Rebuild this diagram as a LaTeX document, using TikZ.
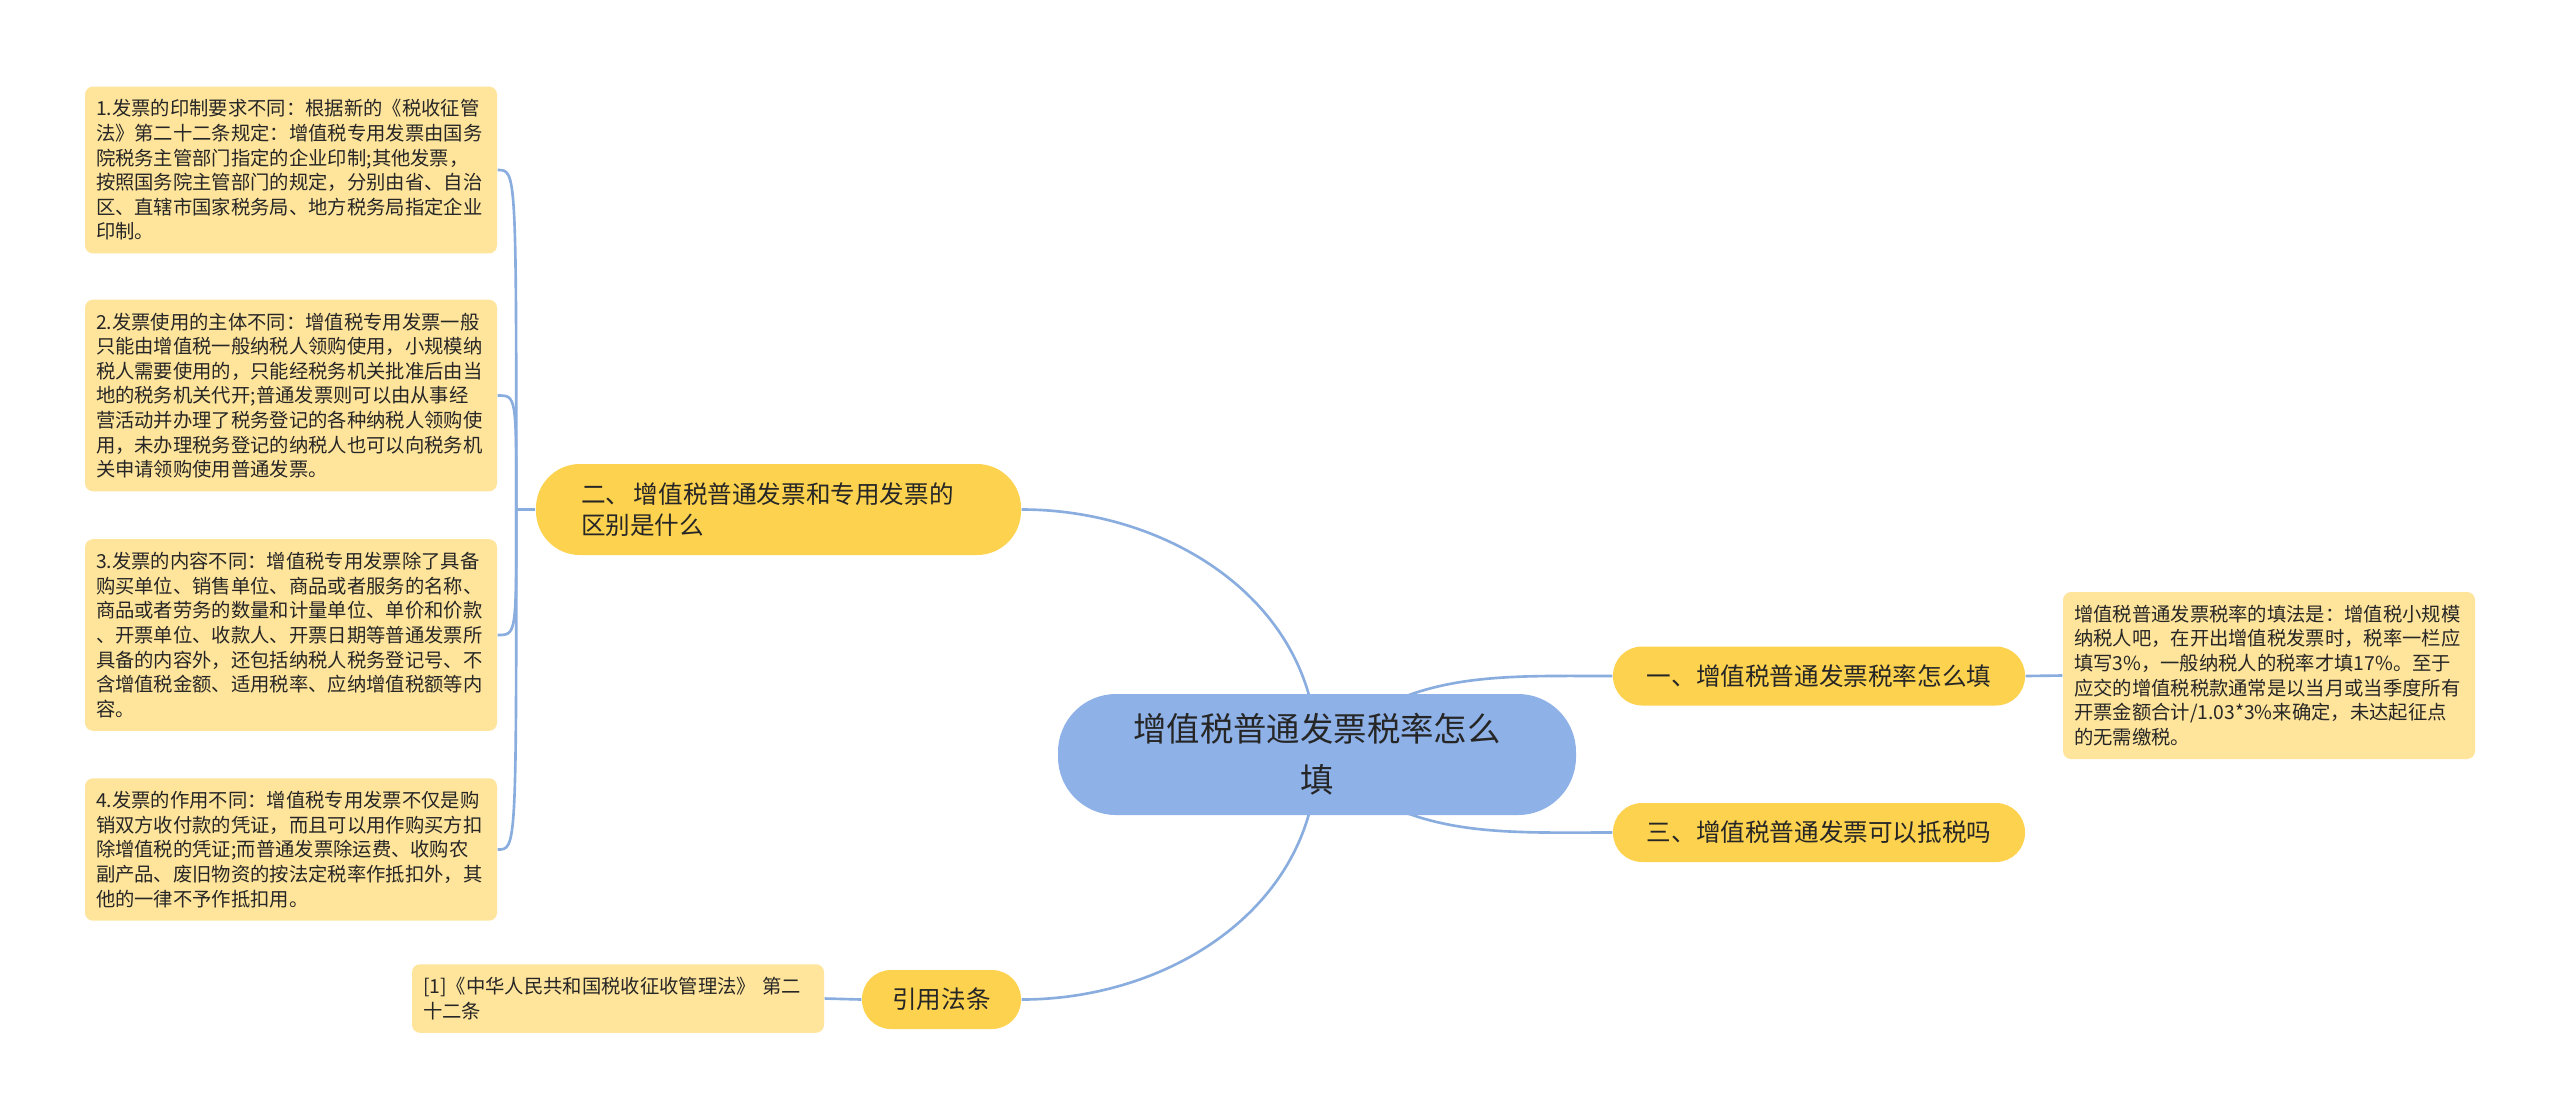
\documentclass[tikz,border=0pt]{standalone}
\usepackage{fontspec}
\setmainfont{Noto Sans CJK SC}
\usepackage{tikz}
\usetikzlibrary{calc}
\usetikzlibrary{backgrounds}

\definecolor{rootblue}{HTML}{8EB1E8}
\definecolor{branchyellow}{HTML}{FDD24F}
\definecolor{leafyellow}{HTML}{FFE59C}
\definecolor{linkblue}{HTML}{8AADE0}
\definecolor{inkgray}{HTML}{262626}

\tikzset{
  rootnode/.style={fill=rootblue, text=inkgray, rounded corners=0.58cm, minimum width=5.18cm, minimum height=1.21cm, align=center, font=\fontsize{9.5pt}{14.5pt}\selectfont},
  branchnode/.style={fill=branchyellow, text=inkgray, rounded corners=0.29cm, minimum height=0.59cm, font=\fontsize{7pt}{9pt}\selectfont},
  leafnode/.style={fill=leafyellow, text=inkgray, rounded corners=0.08cm, text width=3.9cm, inner xsep=0.11cm, inner ysep=3.7pt, align=left, font=\fontsize{5.5pt}{7pt}\selectfont},
  link/.style={draw=linkblue, line width=0.75pt}
}

\begin{document}
\begin{tikzpicture}
                \useasboundingbox (0,0) rectangle (25.6,-11.19);

                \node[rootnode] (root) at (13.17,-7.545) {增值税普通发票税率怎么\\填};

                \node[branchnode, minimum width=4.85cm, minimum height=0.91cm, rounded corners=0.44cm, text width=3.95cm, inner xsep=0.45cm, align=left] (b2) at (7.785,-5.095) {二、\hspace{0.15em}增值税普通发票和专用发票的\\区别是什么};
                \node[branchnode, minimum width=4.12cm] (b1) at (18.19,-6.76) {一、增值税普通发票税率怎么填};
                \node[branchnode, minimum width=4.12cm] (b3) at (18.19,-8.325) {三、增值税普通发票可以抵税吗};
                \node[branchnode, minimum width=1.59cm] (bc) at (9.415,-9.995) {引用法条};

                \node[leafnode] (r1) at (22.69,-6.755) {增值税普通发票税率的填法是：增值税小规模\\纳税人吧，在开出增值税发票时，税率一栏应\\填写3\%，一般纳税人的税率才填17\%。至于\\应交的增值税税款通常是以当月或当季度所有\\开票金额合计/1.03*3\%来确定，未达起征点\\的无需缴税。};

                \node[leafnode] (l1) at (2.91,-1.70) {1.发票的印制要求不同：根据新的《税收征管\\法》第二十二条规定：增值税专用发票由国务\\院税务主管部门指定的企业印制;其他发票，\\按照国务院主管部门的规定，分别由省、自治\\区、直辖市国家税务局、地方税务局指定企业\\印制。};
                \node[leafnode] (l2) at (2.91,-3.955) {2.发票使用的主体不同：增值税专用发票一般\\只能由增值税一般纳税人领购使用，小规模纳\\税人需要使用的，只能经税务机关批准后由当\\地的税务机关代开;普通发票则可以由从事经\\营活动并办理了税务登记的各种纳税人领购使\\用，未办理税务登记的纳税人也可以向税务机\\关申请领购使用普通发票。};
                \node[leafnode] (l3) at (2.91,-6.35) {3.发票的内容不同：增值税专用发票除了具备\\购买单位、销售单位、商品或者服务的名称、\\商品或者劳务的数量和计量单位、单价和价款\\、开票单位、收款人、开票日期等普通发票所\\具备的内容外，还包括纳税人税务登记号、不\\含增值税金额、适用税率、应纳增值税额等内\\容。};
                \node[leafnode] (l4) at (2.91,-8.495) {4.发票的作用不同：增值税专用发票不仅是购\\销双方收付款的凭证，而且可以用作购买方扣\\除增值税的凭证;而普通发票除运费、收购农\\副产品、废旧物资的按法定税率作抵扣外，其\\他的一律不予作抵扣用。};

                \node[leafnode] (c1) at (6.18,-9.985) {[1]《中华人民共和国税收征收管理法》 第二\\十二条};

                \coordinate (j2) at ($(b2.west)+(-0.19,0)$);

                \begin{scope}[on background layer]
                \fill[white] (0,0) rectangle (25.6,-11.19);
                \draw[link] (root.center) to[out=90,in=0] (b2.east);
                \draw[link] (root.center) to[out=-90,in=0] (bc.east);
                \draw[link] (root.center) to[out=45,in=180] (b1.west);
                \draw[link] (root.center) to[out=-45,in=180] (b3.west);
                \draw[link] (b1.east) -- (r1.west);
                \draw[link] (bc.west) -- (c1.east);
                \draw[link] (b2.west) -- (j2);
                \foreach \l in {l1,l2,l3,l4}
                    \draw[link] (j2) .. controls (j2 |- \l.east) .. (\l.east);
                \end{scope}
            \end{tikzpicture}
\end{document}
